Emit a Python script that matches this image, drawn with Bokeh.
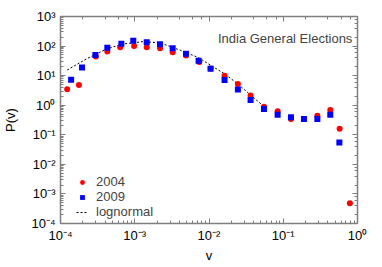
from bokeh.plotting import figure
from bokeh.models import LogAxis, Legend, LegendItem, Label, Range1d, CustomJSTickFormatter
from bokeh.embed import file_html
from bokeh.resources import INLINE

# 2004 election data
v_2004 = [1.23e-4, 1.77e-4, 2.99e-4, 4.27e-4, 6.37e-4, 9.8e-4, 1.45e-3, 2.19e-3,
          3.24e-3, 4.9e-3, 7.4e-3, 1.05e-2, 1.62e-2, 2.45e-2, 3.63e-2, 5.5e-2,
          8.4e-2, 0.127, 0.19, 0.288, 0.43, 0.575, 0.79]
p_2004 = [3.5, 4.8, 44, 65, 91, 100, 91, 85, 62, 48, 29, 17.6, 10, 5.2, 2.15,
          0.89, 0.62, 0.34, 0.34, 0.44, 0.69, 0.16, 4.8e-4]

# 2009 election data
v_2009 = [1.39e-4, 1.95e-4, 2.95e-4, 4.27e-4, 6.6e-4, 9.55e-4, 1.45e-3, 2.19e-3,
          3.24e-3, 4.9e-3, 7.24e-3, 1.05e-2, 1.62e-2, 2.45e-2, 3.63e-2, 5.5e-2,
          8.4e-2, 0.127, 0.19, 0.288, 0.43, 0.57]
p_2009 = [7.3, 19, 50, 87, 119, 150, 134, 115, 85, 55, 32, 17, 7.1, 3.4, 1.5,
          0.74, 0.48, 0.39, 0.34, 0.34, 0.48, 0.055]

# lognormal fit curve
v_fit = [1.23e-4, 2.24e-4, 4.17e-4, 6.9e-4, 1.29e-3, 2.19e-3, 4.17e-3, 7.08e-3,
         1.07e-2, 1.62e-2, 2.45e-2, 3.72e-2, 5.37e-2]
p_fit = [15.5, 37, 80, 117, 141, 129, 71, 41.7, 21.9, 11.5, 5.25, 2.09, 0.955]

FONT = "Liberation Sans"
AX = "#7f7f7f"

p = figure(frame_width=297, frame_height=207, x_axis_type="log", y_axis_type="log",
           x_range=Range1d(1e-4, 1), y_range=Range1d(1e-4, 1e3),
           output_backend="svg", toolbar_location=None,
           min_border_left=59, min_border_right=20, min_border_top=16,
           min_border_bottom=40, background_fill_color="white",
           border_fill_color="white", outline_line_color=None)
p.grid.visible = False

sup_fmt = CustomJSTickFormatter(code="""
const sup = {'-':'\u207b','0':'\u2070','1':'\u00b9','2':'\u00b2','3':'\u00b3',
             '4':'\u2074','5':'\u2075','6':'\u2076','7':'\u2077','8':'\u2078','9':'\u2079'};
const e = Math.round(Math.log10(tick));
return '10' + String(e).split('').map(c => sup[c]).join('');
""")
blank_fmt = CustomJSTickFormatter(code="return ' ';")

def style(ax, labels=True):
    ax.axis_line_color = AX
    ax.axis_line_width = 1.5
    ax.major_tick_line_color = AX
    ax.minor_tick_line_color = AX
    ax.major_tick_in = 5
    ax.major_tick_out = 0
    ax.minor_tick_in = 3
    ax.minor_tick_out = 0
    ax.major_label_text_font = FONT
    ax.major_label_text_font_size = "13px"
    ax.major_label_text_color = "black"
    ax.axis_label_text_font = FONT
    ax.axis_label_text_font_size = "13px"
    ax.axis_label_text_font_style = "normal"
    ax.axis_label_text_color = "black"
    if labels:
        ax.formatter = sup_fmt
    else:
        ax.formatter = blank_fmt
        ax.major_label_text_font_size = "1px"
        ax.major_label_text_alpha = 0
        ax.major_label_standoff = 0

style(p.xaxis[0])
style(p.yaxis[0])
p.xaxis[0].axis_label = "v"
p.yaxis[0].axis_label = "P(v)"
p.xaxis[0].major_label_standoff = 4
p.xaxis[0].axis_label_standoff = 2
p.yaxis[0].major_label_standoff = 5
p.yaxis[0].axis_label_standoff = 10

top = LogAxis()
right = LogAxis()
style(top, False)
style(right, False)
p.add_layout(top, "above")
p.add_layout(right, "right")

fit = p.line(v_fit, p_fit, line_color="black", line_width=1, line_dash="2 2")
r04 = p.scatter(v_2004, p_2004, marker="circle", size=6, fill_color="red",
                line_color=None)
r09 = p.scatter(v_2009, p_2009, marker="square", size=6, fill_color="blue",
                line_color=None)

legend = Legend(items=[LegendItem(label="2004", renderers=[r04]),
                       LegendItem(label="2009", renderers=[r09]),
                       LegendItem(label="lognormal", renderers=[fit])],
                location=(16, 4), padding=0, margin=0, spacing=-2,
                glyph_width=12, glyph_height=12, label_height=12,
                label_standoff=8, border_line_color=None,
                background_fill_alpha=0, label_text_font=FONT,
                label_text_font_size="13px")
p.add_layout(legend, "center")

p.add_layout(Label(x=0.853, y=175, text="India General Elections",
                   text_align="right", text_baseline="middle",
                   text_font=FONT, text_font_size="13px"))

open("out.html", "w").write(file_html(p, INLINE))
